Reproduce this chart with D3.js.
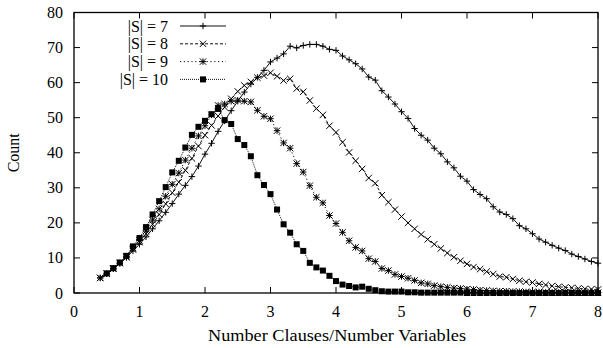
<!DOCTYPE html>
<html>
<head>
<meta charset="utf-8">
<script src="https://cdn.jsdelivr.net/npm/d3@7"></script>
<style>
  body { margin: 0; background: #fff; }
  text { font-family: "Liberation Serif", "Times New Roman", serif; fill: #000; }
</style>
</head>
<body>
<script>
// ratio clauses/variables, step 0.1
const xs = [0.4,0.5,0.6,0.7,0.8,0.9,1.0,1.1,1.2,1.3,1.4,1.5,1.6,1.7,1.8,1.9,2.0,2.1,2.2,2.3,
  2.4,2.5,2.6,2.7,2.8,2.9,3.0,3.1,3.2,3.3,3.4,3.5,3.6,3.7,3.8,3.9,4.0,4.1,4.2,4.3,
  4.4,4.5,4.6,4.7,4.8,4.9,5.0,5.1,5.2,5.3,5.4,5.5,5.6,5.7,5.8,5.9,6.0,6.1,6.2,6.3,
  6.4,6.5,6.6,6.7,6.8,6.9,7.0,7.1,7.2,7.3,7.4,7.5,7.6,7.7,7.8,7.9,8.0];

const s7 = [4.3,5.5,6.9,8.4,10.1,12.0,13.9,16.0,18.3,20.6,23.0,25.5,28.2,30.7,
  33.2,36.2,39.6,42.7,46.1,49.1,52.0,54.7,57.3,59.6,
  61.5,63.5,65.9,67.0,68.2,70.4,69.9,70.6,70.9,70.9,
  70.4,69.5,69.2,67.6,66.5,65.4,63.9,61.6,60.7,57.7,
  55.9,53.9,51.7,49.8,46.9,45.0,43.6,41.3,39.7,37.4,
  35.7,33.3,31.9,29.5,28.1,26.9,24.6,23.1,22.4,21.2,
  19.2,18.3,16.9,15.4,14.5,13.6,12.8,12.1,11.1,10.4,
  9.7,9.0,8.5];
const s8 = [4.3,5.5,6.9,8.5,10.2,12.4,14.5,16.9,19.6,22.4,25.4,28.6,31.6,35.0,
  38.4,41.9,45.0,47.8,50.5,53.0,55.4,57.5,59.2,60.2,
  61.4,62.0,62.8,61.8,60.6,61.1,58.3,57.4,54.9,52.6,
  50.8,47.7,45.8,43.0,40.1,37.7,35.4,32.8,31.3,27.9,
  25.9,23.8,21.8,20.0,18.3,16.7,15.3,13.9,12.7,11.4,
  10.2,9.2,8.3,7.4,6.8,6.1,5.4,4.7,4.5,4.0,
  3.5,3.2,3.0,2.6,2.3,2.0,1.8,1.6,1.5,1.3,
  1.2,1.1,1.0];
const s9 = [4.3,5.5,7.0,8.6,10.4,12.8,15.0,17.7,20.8,24.0,27.6,31.0,34.2,37.9,
  41.3,44.8,47.7,50.8,53.5,53.9,54.7,55.0,54.7,54.5,
  52.1,50.4,49.7,46.3,42.8,41.3,36.9,34.5,30.6,27.3,
  25.7,22.1,19.8,17.3,14.9,13.0,12.0,9.8,9.0,7.0,
  6.4,5.3,4.7,4.2,3.6,2.9,2.6,2.1,1.8,1.6,
  1.4,1.3,1.1,1.0,0.8,0.7,0.6,0.5,0.5,0.4,
  0.4,0.3,0.3,0.3,0.2,0.2,0.2,0.2,0.1,0.1,
  0.1,0.1,0.1];
const s10 = [null,5.6,7.1,8.7,10.6,13.3,15.7,18.8,22.4,26.2,30.2,34.4,37.7,41.5,
  45.1,47.4,49.1,51.0,52.5,49.3,48.2,43.9,42.2,39.0,
  33.6,30.8,28.2,23.8,19.6,17.2,13.9,12.0,8.6,7.3,
  6.4,4.9,3.4,2.4,2.0,1.6,1.8,1.2,0.8,0.5,
  0.4,0.4,0.4,0.2,0.2,0.1,0.1,0.1,0.1,0.1,
  0.1,0.1,0.0,0.0,0.0,0.0,0.0,0.0,0.0,0.0,
  0.0,0.0,0.0,0.0,0.0,0.0,0.0,0.0,0.0,0.0,
  0.0,0.0,0.0];

const seriesNames = ['|S| = 7', '|S| = 8', '|S| = 9', '|S| = 10'];
const seriesValues = [s7, s8, s9, s10];
const xTicks = [0, 1, 2, 3, 4, 5, 6, 7, 8];
const yTicks = [0, 10, 20, 30, 40, 50, 60, 70, 80];

const width = 603, height = 348;
const margin = {left: 74, right: 5, top: 12.5, bottom: 55};
const fs = 16;

const svg = d3.select('body').append('svg')
  .attr('width', width)
  .attr('height', height);

const x = d3.scaleLinear().domain([0, 8]).range([margin.left, width - margin.right]);
const y = d3.scaleLinear().domain([0, 80]).range([height - margin.bottom, margin.top]);

// line styles as gnuplot draws them
const dashes = [null, '3,2', '1.2,2.6', '1,1'];
const markers = ['plus', 'cross', 'star', 'square'];

function drawMarker(g, type, cx, cy) {
  const s = 3.2;
  if (type === 'square') {
    g.append('rect').attr('x', cx - 3).attr('y', cy - 3).attr('width', 6).attr('height', 6)
      .attr('fill', '#000');
    return;
  }
  let d = '';
  if (type === 'plus' || type === 'star') d += `M${cx - s},${cy}H${cx + s}M${cx},${cy - s}V${cy + s}`;
  if (type === 'cross' || type === 'star') d += `M${cx - s},${cy - s}L${cx + s},${cy + s}M${cx - s},${cy + s}L${cx + s},${cy - s}`;
  g.append('path').attr('d', d).attr('stroke', '#000').attr('stroke-width', 1).attr('fill', 'none');
}

// series
const line = d3.line()
  .defined(d => d[1] != null)
  .x(d => x(d[0]))
  .y(d => y(d[1]));

seriesValues.forEach((vals, i) => {
  const pts = xs.map((v, j) => [v, vals[j]]);
  const g = svg.append('g');
  g.append('path')
    .attr('d', line(pts))
    .attr('fill', 'none')
    .attr('stroke', '#111')
    .attr('stroke-width', 1)
    .attr('stroke-dasharray', dashes[i]);
  pts.filter(p => p[1] != null).forEach(p => drawMarker(g, markers[i], x(p[0]), y(p[1])));
});

// border box + inward ticks on all sides
const box = svg.append('g');
box.append('rect')
  .attr('x', x(0)).attr('y', y(80))
  .attr('width', x(8) - x(0)).attr('height', y(0) - y(80))
  .attr('fill', 'none').attr('stroke', '#000').attr('stroke-width', 1.3);

const tl = 6;
xTicks.forEach(t => {
  box.append('line').attr('x1', x(t)).attr('x2', x(t)).attr('y1', y(0)).attr('y2', y(0) - tl)
    .attr('stroke', '#000');
  box.append('line').attr('x1', x(t)).attr('x2', x(t)).attr('y1', y(80)).attr('y2', y(80) + tl)
    .attr('stroke', '#000');
  box.append('text').attr('x', x(t)).attr('y', y(0) + 24)
    .attr('text-anchor', 'middle').attr('font-size', fs).text(t);
});
yTicks.forEach(t => {
  box.append('line').attr('x1', x(0)).attr('x2', x(0) + tl).attr('y1', y(t)).attr('y2', y(t))
    .attr('stroke', '#000');
  box.append('line').attr('x1', x(8)).attr('x2', x(8) - tl).attr('y1', y(t)).attr('y2', y(t))
    .attr('stroke', '#000');
  box.append('text').attr('x', x(0) - 11).attr('y', y(t) + 5.5)
    .attr('text-anchor', 'end').attr('font-size', fs).text(t);
});

// axis titles
svg.append('text')
  .attr('x', 208).attr('y', 341)
  .attr('font-size', 17)
  .attr('textLength', 258).attr('lengthAdjust', 'spacingAndGlyphs')
  .text('Number Clauses/Number Variables');
svg.append('text')
  .attr('transform', `translate(19,${(y(0) + y(80)) / 2}) rotate(-90)`)
  .attr('text-anchor', 'middle').attr('font-size', fs)
  .text('Count');

// legend
const legend = svg.append('g');
seriesNames.forEach((name, i) => {
  const ly = 26 + i * 17.8;
  legend.append('text').attr('x', 168).attr('y', ly + 5.5)
    .attr('text-anchor', 'end').attr('font-size', fs).text(name);
  legend.append('line').attr('x1', 180).attr('x2', 226).attr('y1', ly).attr('y2', ly)
    .attr('stroke', '#111').attr('stroke-width', 1).attr('stroke-dasharray', dashes[i]);
  drawMarker(legend, markers[i], 203, ly);
});
</script>
</body>
</html>
